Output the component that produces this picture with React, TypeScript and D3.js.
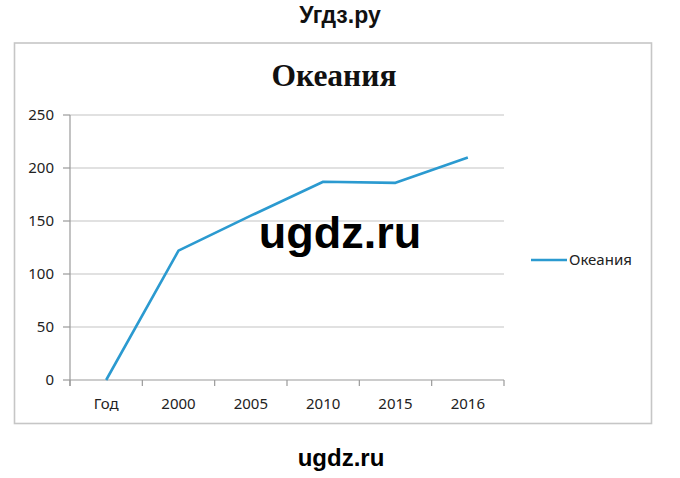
import React from "react";
import * as d3 from "d3";

const categories: string[] = ["Год", "2000", "2005", "2010", "2015", "2016"];
const values: number[] = [0, 122, 155, 187, 186, 210];
const yTicks: number[] = [0, 50, 100, 150, 200, 250];
const seriesName = "Океания";
const chartTitle = "Океания";

const W = 680;
const H = 478;
const plot = { left: 70, right: 504, top: 115, bottom: 380 };
const lineColor = "#2b9ad0";
const labelFont = "'Noto Sans', 'Open Sans', sans-serif";

export default function App() {
  const x = d3
    .scaleBand<string>()
    .domain(categories)
    .range([plot.left, plot.right])
    .paddingInner(0)
    .paddingOuter(0);
  const y = d3.scaleLinear().domain([0, 250]).range([plot.bottom, plot.top]);

  const line = d3
    .line<number>()
    .x((_, i) => (x(categories[i]) as number) + x.bandwidth() / 2)
    .y((d) => y(d));

  const boundaries = categories.map((c) => x(c) as number).concat([plot.right]);

  return (
    <svg
      width={W}
      height={H}
      viewBox={`0 0 ${W} ${H}`}
      style={{ position: "absolute", left: 0, top: 0, background: "#fff" }}
    >
      <rect x={0} y={0} width={W} height={H} fill="#fff" />
      <text
        x={340}
        y={23}
        textAnchor="middle"
        fontFamily="'Liberation Sans', Arial, sans-serif"
        fontWeight="bold"
        fontSize={23}
        fill="#111"
      >
        Угдз.ру
      </text>

      <rect
        x={14.5}
        y={43}
        width={637}
        height={380.5}
        fill="#fff"
        stroke="#c6c6c6"
        strokeWidth={1.6}
      />

      <text
        x={334}
        y={86}
        textAnchor="middle"
        fontFamily="'Liberation Serif', 'Times New Roman', serif"
        fontWeight="bold"
        fontSize={31.5}
        fill="#111"
      >
        {chartTitle}
      </text>

      {yTicks.map((t) => (
        <g key={t}>
          <line
            x1={plot.left}
            x2={plot.right}
            y1={y(t)}
            y2={y(t)}
            stroke={t === 0 ? "#9a9a9a" : "#c4c4c4"}
            strokeWidth={1.2}
          />
          <line x1={63} x2={plot.left} y1={y(t)} y2={y(t)} stroke="#9a9a9a" strokeWidth={1.2} />
          <text
            x={54}
            y={y(t)}
            dy="0.35em"
            textAnchor="end"
            fontFamily={labelFont}
            fontSize={15}
            fill="#222"
          >
            {t}
          </text>
        </g>
      ))}

      <line x1={plot.left} x2={plot.left} y1={plot.top} y2={plot.bottom + 6} stroke="#9a9a9a" strokeWidth={1.2} />
      {boundaries.map((b, i) => (
        <line key={i} x1={b} x2={b} y1={plot.bottom} y2={plot.bottom + 6} stroke="#9a9a9a" strokeWidth={1.2} />
      ))}

      {categories.map((c) => (
        <text
          key={c}
          x={(x(c) as number) + x.bandwidth() / 2}
          y={409}
          textAnchor="middle"
          fontFamily={labelFont}
          fontSize={15}
          fill="#222"
        >
          {c}
        </text>
      ))}

      <path
        d={line(values) || ""}
        fill="none"
        stroke={lineColor}
        strokeWidth={2.6}
        strokeLinejoin="round"
      />

      <line x1={531} x2={567} y1={260} y2={260} stroke={lineColor} strokeWidth={2.6} />
      <text x={569} y={265} fontFamily={labelFont} fontSize={15} fill="#222">
        {seriesName}
      </text>

      <text
        x={340}
        y={248}
        textAnchor="middle"
        fontFamily="'Liberation Sans', Arial, sans-serif"
        fontWeight="bold"
        fontSize={45}
        fill="#000"
      >
        ugdz.ru
      </text>

      <text
        x={341}
        y={466}
        textAnchor="middle"
        fontFamily="'Liberation Sans', Arial, sans-serif"
        fontWeight="bold"
        fontSize={24}
        fill="#000"
      >
        ugdz.ru
      </text>
    </svg>
  );
}
